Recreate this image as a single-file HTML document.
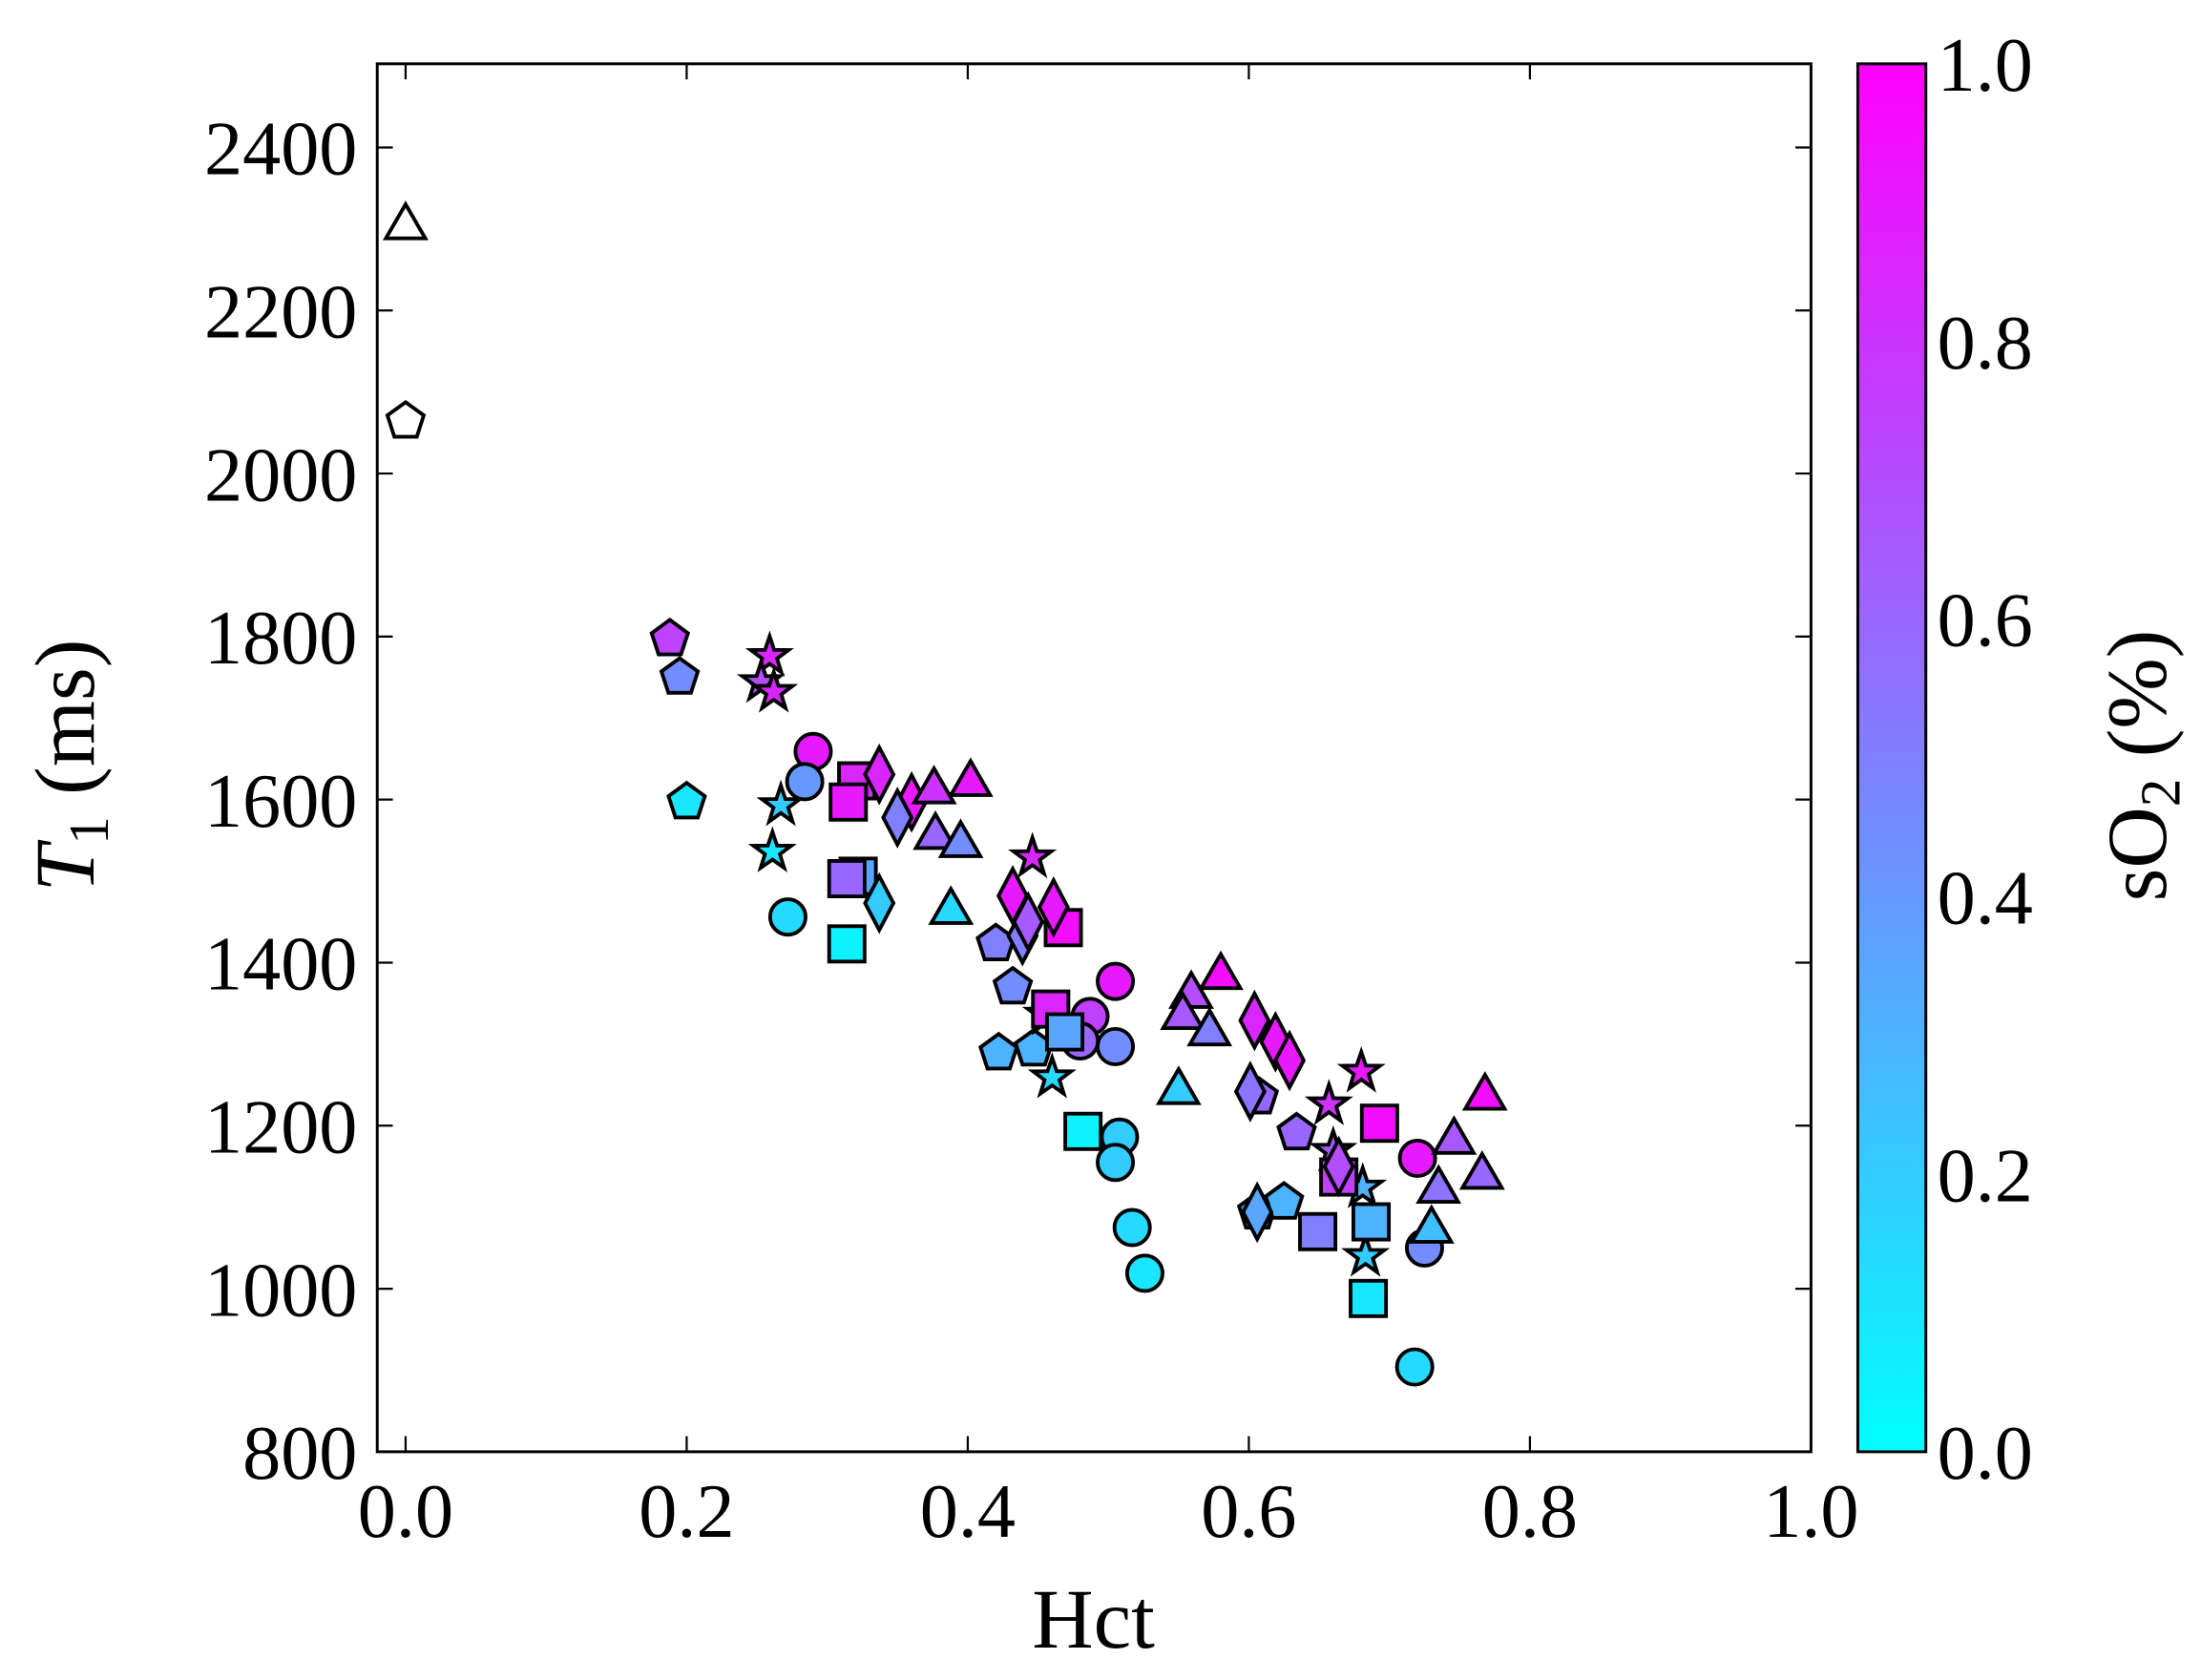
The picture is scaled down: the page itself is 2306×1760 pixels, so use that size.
<!DOCTYPE html>
<html><head><meta charset="utf-8"><style>
html,body{margin:0;padding:0;background:#fff}
svg{display:block}
text{font-family:"Liberation Serif",serif;fill:#000}
</style></head><body>
<svg id="chart" width="2306" height="1760" viewBox="0 0 1552 1185" preserveAspectRatio="none" xmlns="http://www.w3.org/2000/svg">
<defs>
<linearGradient id="cg" x1="0" y1="1" x2="0" y2="0"><stop offset="0" stop-color="#00ffff"/><stop offset="1" stop-color="#ff00ff"/></linearGradient>
</defs>
<g id="marks"></g>
<rect x="266" y="45" width="1011" height="979" fill="none" stroke="#000" stroke-width="2"/>
<g id="axes"></g>
<rect x="1310" y="45" width="48" height="979" fill="url(#cg)" stroke="#000" stroke-width="2"/>
<text x="771" y="1162" font-size="60" text-anchor="middle">Hct</text>
<text transform="translate(66,540) rotate(-90)" font-size="60" text-anchor="middle"><tspan font-style="italic">T</tspan><tspan font-size="40" dy="10">1</tspan><tspan dy="-10"> (ms)</tspan></text>
<text transform="translate(1527,540) rotate(-90)" font-size="60" text-anchor="middle">sO<tspan font-size="40" dy="10">2</tspan><tspan dy="-10"> (%)</tspan></text>
</svg>
<script>
const shapes = ["tri","pent","pent","pent","pent","pent","pent","pent","pent","pent","pent","pent","pent","star","star","star","star","star","star","star","star","star","star","star","star","star","circ","circ","circ","circ","circ","circ","circ","circ","circ","circ","circ","circ","circ","circ","sq","sq","sq","sq","sq","sq","sq","sq","sq","sq","sq","sq","sq","sq","dia","dia","dia","dia","dia","dia","dia","dia","dia","dia","dia","dia","dia","dia","tri","tri","tri","tri","tri","tri","tri","tri","tri","tri","tri","tri","tri","tri","tri"];
const hct = [0,0,0.188,0.195,0.2,0.42,0.432,0.422,0.447,0.634,0.607,0.606,0.625,0.259,0.253,0.262,0.267,0.261,0.446,0.456,0.46,0.68,0.657,0.66,0.681,0.683,0.29,0.284,0.272,0.505,0.487,0.48,0.505,0.508,0.505,0.517,0.526,0.72,0.725,0.718,0.321,0.315,0.322,0.314,0.314,0.468,0.459,0.469,0.482,0.693,0.664,0.649,0.687,0.685,0.337,0.36,0.35,0.337,0.432,0.461,0.439,0.443,0.604,0.619,0.629,0.601,0.606,0.664,0.376,0.402,0.377,0.395,0.388,0.58,0.559,0.553,0.572,0.55,0.768,0.746,0.766,0.735,0.73];
const t1 = [2306,2064,1797,1750,1597,1423,1370,1289,1294,1191,1235,1094,1106,1776,1744,1732,1593,1536,1529,1336,1259,1266,1226,1169,1124,1040,1659,1622,1456,1377,1334,1304,1297,1186,1155,1075,1019,1160,1050,904,1623,1597,1506,1503,1423,1443,1343,1315,1193,1203,1137,1070,1082,988,1631,1597,1578,1473,1482,1468,1433,1450,1329,1303,1280,1242,1094,1150,1614,1623,1558,1548,1466,1386,1363,1337,1317,1245,1238,1184,1141,1124,1075];
const so2 = [-1,-1,0.75,0.45,0.1,0.5,0.45,0.3,0.3,0.6,0.6,0.35,0.3,0.85,0.7,0.85,0.2,0.1,0.85,0.2,0.15,0.9,0.8,0.65,0.3,0.2,0.9,0.4,0.15,0.9,0.75,0.6,0.45,0.2,0.2,0.15,0.1,0.9,0.45,0.15,0.85,0.9,0.35,0.6,0.05,0.95,0.85,0.35,0.05,0.95,0.75,0.5,0.3,0.1,0.85,0.9,0.5,0.2,0.9,0.9,0.5,0.65,0.85,0.9,0.9,0.55,0.35,0.7,0.8,0.9,0.6,0.45,0.15,0.95,0.7,0.65,0.5,0.2,0.95,0.65,0.6,0.55,0.25];
const xTicks = ["0.0","0.2","0.4","0.6","0.8","1.0"];
const yTicks = ["800","1000","1200","1400","1600","1800","2000","2200","2400"];
const cTicks = ["0.0","0.2","0.4","0.6","0.8","1.0"];
const NS="http://www.w3.org/2000/svg";
const X = v => 286 + v*991;
const Y = v => 1024 - (v-800)*0.575;
const C = v => 1024 - v*979;
function color(s){ if(s<0) return "#fff"; return "rgb("+Math.round(255*s)+","+Math.round(255*(1-s))+",255)"; }
function el(tag,attrs,parent){const e=document.createElementNS(NS,tag);for(const k in attrs)e.setAttribute(k,attrs[k]);parent.appendChild(e);return e;}
function pts(arr){return arr.map(p=>p[0].toFixed(1)+","+p[1].toFixed(1)).join(" ");}
function poly(n,r,cx,cy,rot){const a=[];for(let i=0;i<n;i++){const t=rot+i*2*Math.PI/n;a.push([cx+r*Math.cos(t),cy+r*Math.sin(t)]);}return a;}
const marks=document.getElementById("marks");
for(let i=0;i<hct.length;i++){
  const cx=X(hct[i]), cy=Y(t1[i]);
  const st={fill:color(so2[i]),stroke:"#000","stroke-width":2.6,"stroke-linejoin":"miter"};
  let m;
  const s=shapes[i];
  if(s==="circ"){m=el("circle",Object.assign({cx:cx,cy:cy,r:12.5},st),marks);}
  else if(s==="sq"){m=el("rect",Object.assign({x:cx-12.5,y:cy-12.5,width:25,height:25},st),marks);}
  else if(s==="tri"){m=el("polygon",Object.assign({points:pts(poly(3,16,cx,cy+2,-Math.PI/2))},st),marks);}
  else if(s==="pent"){m=el("polygon",Object.assign({points:pts(poly(5,13.5,cx,cy,-Math.PI/2))},st),marks);}
  else if(s==="dia"){m=el("polygon",Object.assign({points:pts([[cx,cy-19],[cx+10,cy],[cx,cy+19],[cx-10,cy]])},st),marks);}
  else {const a=[];for(let k=0;k<10;k++){const r=k%2?5.5:14;const t=-Math.PI/2+k*Math.PI/5;a.push([cx+r*Math.cos(t),cy+r*Math.sin(t)]);}m=el("polygon",Object.assign({points:pts(a)},st),marks);}
  
  
}
const axes=document.getElementById("axes");
xTicks.forEach(t=>{const x=X(parseFloat(t));
  const l1=el("line",{x1:x,y1:1024,x2:x,y2:1013,stroke:"#000","stroke-width":1.5},axes);
  
  
  const l2=el("line",{x1:x,y1:45,x2:x,y2:56,stroke:"#000","stroke-width":1.5},axes);
  
  
  const tx=el("text",{x:x,y:1084,"font-size":54,"text-anchor":"middle"},axes);tx.textContent=t;
  
  
});
yTicks.forEach(t=>{const y=Y(parseFloat(t));
  const l1=el("line",{x1:266,y1:y,x2:277,y2:y,stroke:"#000","stroke-width":1.5},axes);
  
  
  const l2=el("line",{x1:1266,y1:y,x2:1277,y2:y,stroke:"#000","stroke-width":1.5},axes);
  
  
  const tx=el("text",{x:252,y:y+19,"font-size":54,"text-anchor":"end"},axes);tx.textContent=t;
  
  
});
cTicks.forEach(t=>{const y=C(parseFloat(t));
  const l1=el("line",{x1:1348,y1:y,x2:1358,y2:y,stroke:"#000","stroke-width":1.5},axes);
  
  
  const tx=el("text",{x:1366,y:y+19,"font-size":54,"text-anchor":"start"},axes);tx.textContent=t;
  
  
});
</script>
</body></html>
